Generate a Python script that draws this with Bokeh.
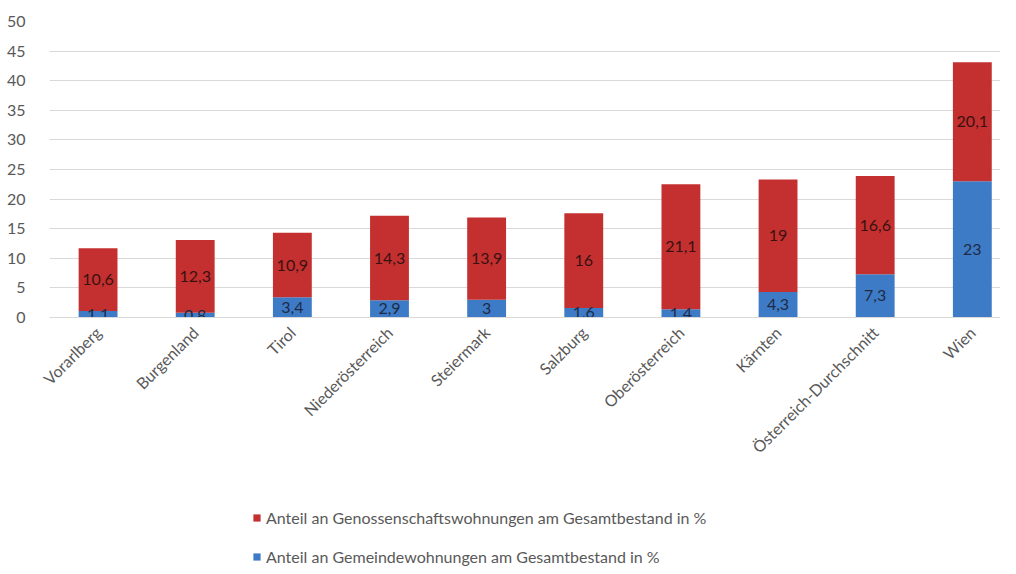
import math
from bokeh.plotting import figure
from bokeh.layouts import column
from bokeh.models import ColumnDataSource, Legend, LegendItem, FixedTicker, Range1d
from bokeh.core.properties import value
from bokeh.embed import file_html
from bokeh.resources import INLINE

regions = ["Vorarlberg", "Burgenland", "Tirol", "Niederösterreich", "Steiermark",
           "Salzburg", "Oberösterreich", "Kärnten", "Österreich-Durchschnitt", "Wien"]
gemeinde = [1.1, 0.8, 3.4, 2.9, 3.0, 1.6, 1.4, 4.3, 7.3, 23.0]
genossen = [10.6, 12.3, 10.9, 14.3, 13.9, 16.0, 21.1, 19.0, 16.6, 20.1]
y_ticks = [0, 5, 10, 15, 20, 25, 30, 35, 40, 45, 50]
name_gen = "Anteil an Genossenschaftswohnungen am Gesamtbestand in %"
name_gem = "Anteil an Gemeindewohnungen am Gesamtbestand in %"

RED = "#C3302F"
BLUE = "#3D7BC6"
FONT = "Lato"

def fmt(v):
    return f"{v:g}".replace(".", ",")

idx = list(range(len(regions)))
src = ColumnDataSource(dict(
    x=idx,
    gemeinde=gemeinde,
    genossen=genossen,
    gem_mid=[g / 2 for g in gemeinde],
    gen_mid=[g + r / 2 for g, r in zip(gemeinde, genossen)],
    gem_lab=[fmt(v) for v in gemeinde],
    gen_lab=[fmt(v) for v in genossen],
))

p = figure(width=1000, height=490, output_backend="svg", toolbar_location=None,
           x_range=Range1d(-0.5, 9.29), y_range=Range1d(0, 50),
           min_border_left=49, min_border_top=21, min_border_right=0,
           min_border_bottom=173)
p.outline_line_color = None
p.background_fill_color = "white"
p.border_fill_color = "white"

rs = p.vbar_stack(["gemeinde", "genossen"], x="x", width=0.4, color=[BLUE, RED],
                  line_color=None, source=src)

p.text(x="x", y="gem_mid", text="gem_lab", source=src, text_align="center",
       text_baseline="middle", text_font=value(FONT), text_font_size="16px",
       text_color="#1f2a44")
p.text(x="x", y="gen_mid", text="gen_lab", source=src, text_align="center",
       text_baseline="middle", text_font=value(FONT), text_font_size="16px",
       text_color="#3a1010")

# axes
p.yaxis.ticker = FixedTicker(ticks=y_ticks)
p.yaxis.axis_line_color = None
p.yaxis.major_tick_line_color = None
p.yaxis.minor_tick_line_color = None
p.yaxis.major_label_standoff = 18
p.yaxis.major_label_text_font = FONT
p.yaxis.major_label_text_font_size = "16px"
p.yaxis.major_label_text_color = "#595959"

p.xaxis.ticker = FixedTicker(ticks=idx)
p.xaxis.major_label_overrides = {i: r for i, r in enumerate(regions)}
p.xaxis.major_label_orientation = math.pi / 4
p.xaxis.axis_line_color = "#D9D9D9"
p.xaxis.major_tick_line_color = None
p.xaxis.minor_tick_line_color = None
p.xaxis.major_label_standoff = 6
p.xaxis.major_label_text_font = FONT
p.xaxis.major_label_text_font_size = "16px"
p.xaxis.major_label_text_color = "#595959"

p.xgrid.grid_line_color = None
p.ygrid.grid_line_color = "#D9D9D9"
p.ygrid.ticker = FixedTicker(ticks=y_ticks)

# legend strip below the chart (no axes)
lf = figure(width=1000, height=76, output_backend="svg", toolbar_location=None,
            x_range=Range1d(0, 1), y_range=Range1d(0, 1),
            x_axis_type=None, y_axis_type=None,
            min_border_left=0, min_border_right=0, min_border_top=0, min_border_bottom=0)
lf.outline_line_color = None
lf.grid.visible = False
lf.background_fill_color = "white"
lf.border_fill_color = "white"
# zero-height swatch renderers: invisible in the strip, only their legend glyphs show
dummy = ColumnDataSource(dict(x=[0.5], top=[0.0]))
r_gen = lf.vbar(x="x", top="top", width=0.01, fill_color=RED, line_color=None, source=dummy)
r_gem = lf.vbar(x="x", top="top", width=0.01, fill_color=BLUE, line_color=None, source=dummy)

legend = Legend(items=[LegendItem(label=name_gen, renderers=[r_gen]),
                       LegendItem(label=name_gem, renderers=[r_gem])],
                location=(203, 0), orientation="vertical")
legend.border_line_color = None
legend.background_fill_alpha = 0
legend.padding = 0
legend.margin = 0
legend.glyph_width = 9
legend.glyph_height = 9
legend.label_standoff = 5
legend.label_height = 18
legend.spacing = 20
legend.label_text_font = FONT
legend.label_text_font_size = "16px"
legend.label_text_color = "#595959"
lf.add_layout(legend, "center")

layout = column(p, lf, spacing=0)
open("out.html", "w").write(file_html(layout, INLINE))
